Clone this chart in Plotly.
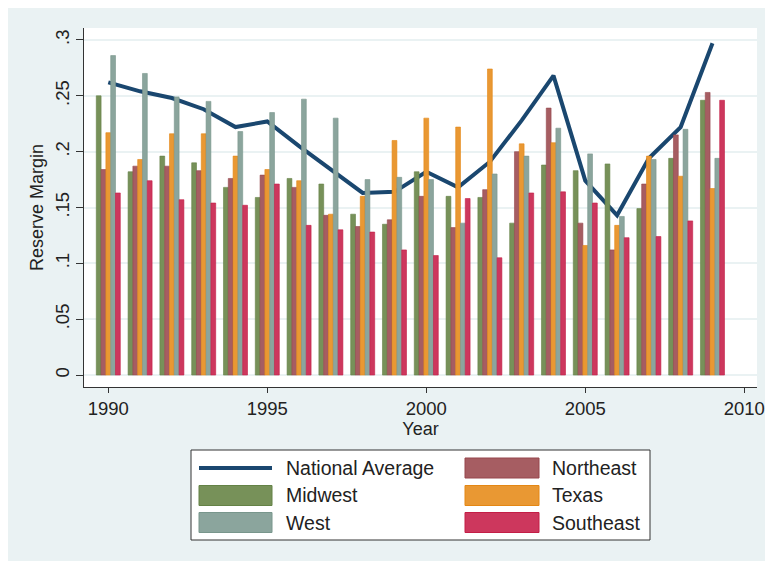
import plotly.graph_objects as go

years = list(range(1990, 2010))
national_average = [0.262, 0.254, 0.248, 0.238, 0.222, 0.227, 0.205, 0.184, 0.163, 0.164,
                    0.182, 0.168, 0.191, 0.228, 0.268, 0.174, 0.143, 0.194, 0.222, 0.297]
midwest = [0.250, 0.182, 0.196, 0.190, 0.168, 0.159, 0.176, 0.171, 0.144, 0.135,
           0.182, 0.160, 0.159, 0.136, 0.188, 0.183, 0.189, 0.149, 0.194, 0.246]
northeast = [0.184, 0.187, 0.187, 0.183, 0.176, 0.179, 0.168, 0.143, 0.133, 0.139,
             0.160, 0.132, 0.166, 0.200, 0.239, 0.136, 0.112, 0.171, 0.215, 0.253]
texas = [0.217, 0.193, 0.216, 0.216, 0.196, 0.184, 0.174, 0.144, 0.160, 0.210,
         0.230, 0.222, 0.274, 0.207, 0.208, 0.116, 0.134, 0.196, 0.178, 0.167]
west = [0.286, 0.270, 0.249, 0.245, 0.218, 0.235, 0.247, 0.230, 0.175, 0.177,
        0.175, 0.136, 0.180, 0.196, 0.221, 0.198, 0.142, 0.193, 0.220, 0.194]
southeast = [0.163, 0.174, 0.157, 0.154, 0.152, 0.171, 0.134, 0.130, 0.128, 0.112,
             0.107, 0.158, 0.105, 0.163, 0.164, 0.154, 0.123, 0.124, 0.138, 0.246]

y_tick_vals = [0, 0.05, 0.1, 0.15, 0.2, 0.25, 0.3]
y_tick_text = ["0", ".05", ".1", ".15", ".2", ".25", ".3"]
x_tick_vals = [1990, 1995, 2000, 2005, 2010]

FONT = "Liberation Sans, Arial, Helvetica, sans-serif"
TXT = "#222222"
LINE_COLOR = "#1a476f"
bar_series = [
    ("Midwest", midwest, "rgb(119,145,89)", "rgb(100,130,70)"),
    ("Northeast", northeast, "rgb(166,93,98)", "rgb(150,70,76)"),
    ("Texas", texas, "rgb(233,152,51)", "rgb(228,135,20)"),
    ("West", west, "rgb(139,165,157)", "rgb(120,150,140)"),
    ("Southeast", southeast, "rgb(205,55,93)", "rgb(195,30,70)"),
]

fig = go.Figure()
fig.add_trace(go.Scatter(x=years, y=national_average, mode="lines", name="National Average",
                         line=dict(color=LINE_COLOR, width=4), showlegend=False,
                         xaxis="x", yaxis="y"))
for name, vals, fill, edge in bar_series:
    fig.add_trace(go.Bar(x=years, y=vals, name=name, showlegend=False,
                         marker=dict(color=fill, line=dict(color=edge, width=0.6)),
                         xaxis="x", yaxis="y2"))

# full-window figure (page body margin removed via post_script); screenshot pixels
W, H = 765, 561
PLOT_LEFT, PLOT_RIGHT, PLOT_TOP, PLOT_BOTTOM = 84, 757, 28, 387
L, R, T, B = PLOT_LEFT, W - PLOT_RIGHT, PLOT_TOP, H - PLOT_BOTTOM
PW, PH = W - L - R, H - T - B


def px(x):
    return (x - PLOT_LEFT) / PW


def py(y):
    return (PLOT_BOTTOM - y) / PH


yr = [-0.0107, 0.3107]
fig.update_layout(
    width=W, height=H,
    margin=dict(l=L, r=R, t=T, b=B, pad=0, autoexpand=False),
    paper_bgcolor="#eaf2f3", plot_bgcolor="white",
    barmode="group", bargap=0.245, bargroupgap=0,
    font=dict(family=FONT, size=18, color=TXT),
    xaxis=dict(range=[1989.236, 2010.40], tickvals=x_tick_vals, ticks="outside", ticklen=5,
               tickcolor="#333", showline=True, linecolor="#333", linewidth=1,
               showgrid=False, zeroline=False, mirror=False, automargin=False,
               title=dict(text="Year", standoff=0, font=dict(size=18)),
               tickfont=dict(size=18.5)),
    yaxis=dict(range=yr, tickvals=y_tick_vals, ticktext=y_tick_text, tickangle=-90,
               ticks="outside", ticklen=7, tickcolor="#333", showline=True, linecolor="#333",
               linewidth=1, showgrid=True, gridcolor="#eaf2f3", gridwidth=1.5, zeroline=False,
               automargin=False,
               title=dict(text="Reserve Margin", standoff=3, font=dict(size=18)),
               tickfont=dict(size=18.5)),
    yaxis2=dict(range=yr, overlaying="y", visible=False, showgrid=False, zeroline=False),
)

shapes = []
# thin white outer strips at left and top (as in the reference image)
shapes.append(dict(type="rect", xref="paper", yref="paper", x0=px(0), x1=px(8), y0=py(561), y1=py(0),
                   fillcolor="white", line=dict(width=0), layer="below"))
shapes.append(dict(type="rect", xref="paper", yref="paper", x0=px(0), x1=px(765), y0=py(8), y1=py(0),
                   fillcolor="white", line=dict(width=0), layer="below"))
# legend box
shapes.append(dict(type="rect", xref="paper", yref="paper", x0=px(191), x1=px(650), y0=py(540), y1=py(450),
                   fillcolor="white", line=dict(color="#333", width=1)))

row_y = [468, 495.5, 522.5]
legend_items = [
    ("National Average", 0, 0, None),
    ("Northeast", 1, 0, 1),
    ("Midwest", 0, 1, 0),
    ("Texas", 1, 1, 2),
    ("West", 0, 2, 3),
    ("Southeast", 1, 2, 4),
]
col_x = [(199, 272, 284), (465, 539, 550)]
annotations = []
for label, col, row, idx in legend_items:
    x0, x1, tx = col_x[col]
    yc = row_y[row]
    if idx is None:
        shapes.append(dict(type="line", xref="paper", yref="paper", x0=px(x0), x1=px(x1),
                           y0=py(yc), y1=py(yc), line=dict(color=LINE_COLOR, width=4)))
    else:
        _, _, fill, edge = bar_series[idx]
        shapes.append(dict(type="rect", xref="paper", yref="paper", x0=px(x0), x1=px(x1),
                           y0=py(yc + 10), y1=py(yc - 10), fillcolor=fill,
                           line=dict(color=edge, width=1)))
    annotations.append(dict(text=label, xref="paper", yref="paper", x=px(tx), y=py(yc),
                            xanchor="left", yanchor="middle", showarrow=False,
                            font=dict(size=19.5, color=TXT, family=FONT)))

fig.update_layout(shapes=shapes, annotations=annotations)
fig.write_html("out.html", config={"displayModeBar": False},
               post_script="document.body.style.margin='0px';document.body.style.overflow='hidden';")
